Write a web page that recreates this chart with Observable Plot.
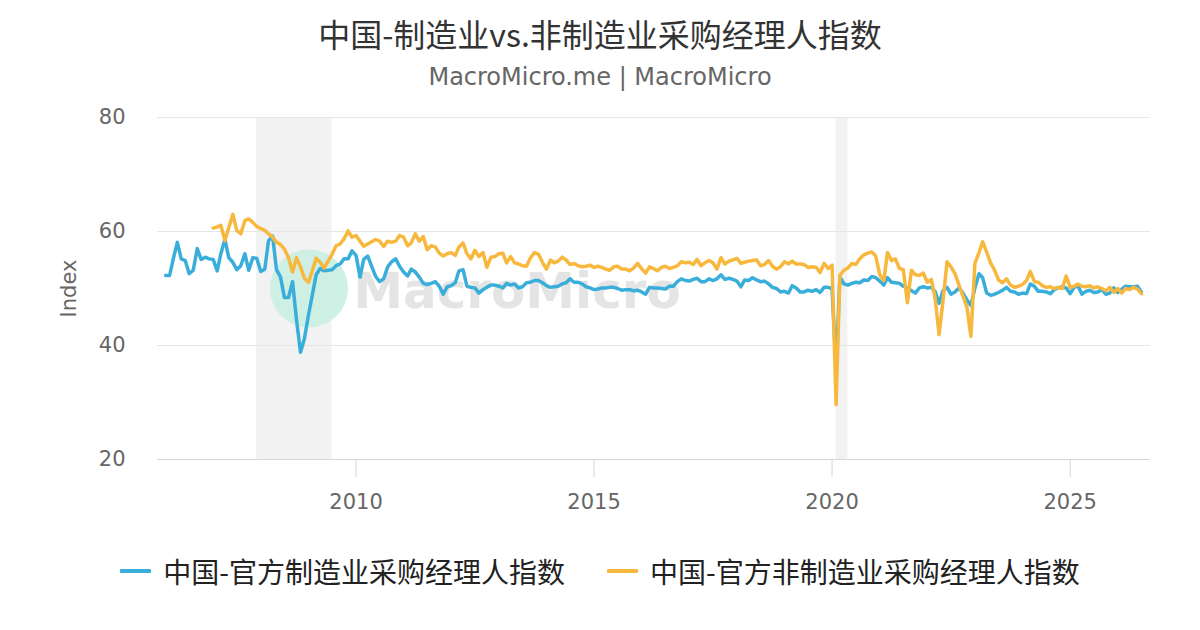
<!DOCTYPE html>
<html>
<head>
<meta charset="utf-8">
<script src="https://cdn.jsdelivr.net/npm/d3@7"></script>
<script src="https://cdn.jsdelivr.net/npm/@observablehq/plot@0.6"></script>
<style>
  html, body { margin: 0; padding: 0; background: #ffffff; }
  body { width: 1200px; height: 630px; position: relative; overflow: hidden; font-family: "DejaVu Sans", "Noto Sans CJK SC", sans-serif; }
  #title { position: absolute; top: 10px; left: 0; width: 1200px; text-align: center; font-family: "Noto Sans CJK SC", "DejaVu Sans", sans-serif; font-size: 32px; color: #333333; line-height: 46px; }
  #subtitle { position: absolute; top: 62px; left: 0; width: 1200px; text-align: center; font-family: "DejaVu Sans", sans-serif; font-size: 24px; color: #666666; line-height: 30px; }
  #chart { position: absolute; top: 100px; left: 0; }
  #legend { position: absolute; top: 550px; left: 0; width: 1200px; display: flex; justify-content: center; align-items: center; font-family: "Noto Sans CJK SC", sans-serif; font-size: 28px; color: #222222; line-height: 42px; }
  .item { display: flex; align-items: center; }
  .item + .item { margin-left: 42px; }
  .swatch { width: 31px; height: 4px; border-radius: 1px; margin-right: 12px; }
</style>
</head>
<body>
<div id="title"></div>
<div id="subtitle"></div>
<div id="chart"></div>
<div id="legend"></div>
<script>
// ---------- data ----------
const titleText = "中国-制造业vs.非制造业采购经理人指数";
const subtitleText = "MacroMicro.me | MacroMicro";
const seriesNames = ["中国-官方制造业采购经理人指数", "中国-官方非制造业采购经理人指数"];
const seriesColors = ["#3aaedb", "#f7b83d"];

// monthly values, first month given by the start arrays [year, month]
const mfgStart = [2006, 1];
const mfgPMI = [
  52.3, 52.3, 55.2, 58.1, 55.2, 54.9, 52.6, 53.2, 57.0, 55.1, 55.5, 55.2,
  55.1, 53.1, 56.1, 58.6, 55.4, 54.6, 53.3, 54.0, 56.1, 53.2, 55.4, 55.3,
  53.0, 53.4, 58.4, 59.2, 53.3, 52.0, 48.4, 48.4, 51.2, 44.6, 38.8, 41.2,
  45.3, 49.0, 52.4, 53.5, 53.1, 53.2, 53.3, 54.0, 54.3, 55.2, 55.2, 56.6,
  55.8, 52.0, 55.1, 55.7, 53.9, 52.1, 51.2, 51.7, 53.8, 54.7, 55.2, 53.9,
  52.9, 52.2, 53.4, 52.9, 52.0, 50.9, 50.7, 50.9, 51.2, 50.4, 49.0, 50.3,
  50.5, 51.0, 53.1, 53.3, 50.4, 50.2, 50.1, 49.2, 49.8, 50.2, 50.6, 50.6,
  50.4, 50.1, 50.9, 50.6, 50.8, 50.1, 50.3, 51.0, 51.1, 51.4, 51.4, 51.0,
  50.5, 50.2, 50.3, 50.4, 50.8, 51.0, 51.7, 51.1, 51.1, 50.8, 50.3, 50.1,
  49.8, 49.9, 50.1, 50.1, 50.2, 50.2, 50.0, 49.7, 49.8, 49.8, 49.6, 49.7,
  49.4, 49.0, 50.2, 50.1, 50.1, 50.0, 49.9, 50.4, 50.4, 51.2, 51.7, 51.4,
  51.3, 51.6, 51.8, 51.2, 51.2, 51.7, 51.4, 51.7, 52.4, 51.6, 51.8, 51.6,
  51.3, 50.3, 51.5, 51.4, 51.9, 51.5, 51.2, 51.3, 50.8, 50.2, 50.0, 49.4,
  49.5, 49.2, 50.5, 50.1, 49.4, 49.4, 49.7, 49.5, 49.8, 49.3, 50.2, 50.2,
  50.0, 35.7, 52.0, 50.8, 50.6, 50.9, 51.1, 51.0, 51.5, 51.4, 52.1, 51.9,
  51.3, 50.6, 51.9, 51.1, 51.0, 50.9, 50.4, 50.1, 49.6, 49.2, 50.1, 50.3,
  50.1, 50.2, 49.5, 47.4, 49.6, 50.2, 49.0, 49.4, 50.1, 49.2, 48.0, 47.0,
  50.1, 52.6, 51.9, 49.2, 48.8, 49.0, 49.3, 49.7, 50.2, 49.5, 49.4, 49.0,
  49.2, 49.1, 50.8, 50.4, 49.5, 49.5, 49.4, 49.1, 49.8, 50.1, 50.3, 50.1,
  49.1, 50.2, 50.5, 49.0, 49.5, 49.7, 49.3, 49.4, 49.8, 49.0, 49.2, 50.1,
  49.3, 49.9, 50.4, 50.3, 50.3, 50.4, 49.4
];

const nonMfgStart = [2007, 1];
const nonMfgPMI = [
  60.6, 60.8, 61.1, 58.4, 60.7, 63.0, 60.2, 59.6, 61.9, 62.2, 61.6, 60.9,
  60.5, 60.2, 59.6, 59.0, 58.1, 57.7, 56.9, 55.4, 52.9, 55.4, 53.8, 51.8,
  51.1, 53.2, 55.3, 54.6, 53.6, 54.8, 56.0, 57.5, 57.8, 58.7, 60.1, 59.0,
  59.3, 58.3, 57.4, 57.8, 58.2, 58.6, 58.3, 57.4, 58.3, 58.1, 58.3, 59.3,
  59.0, 57.5, 58.0, 59.6, 58.3, 59.1, 56.8, 57.5, 57.3, 56.2, 55.7, 56.1,
  56.3, 55.8, 57.3, 58.0, 56.1, 55.2, 56.7, 55.6, 56.3, 53.7, 55.5, 55.6,
  56.1, 56.2, 54.5, 55.6, 54.5, 54.3, 54.0, 53.9, 55.4, 56.3, 56.0, 54.6,
  53.4, 55.0, 54.5, 54.8, 55.5, 55.0, 54.2, 54.4, 54.0, 53.8, 53.9, 54.1,
  53.7, 53.9, 53.7, 53.4, 53.2, 53.8, 53.9, 53.4, 53.4, 53.1, 53.6, 54.4,
  53.5, 52.7, 53.8, 53.5, 53.1, 53.7, 53.9, 53.5, 53.7, 54.0, 54.7, 54.5,
  54.6, 54.2, 55.1, 54.0, 54.5, 54.9, 54.5, 53.4, 55.4, 54.3, 54.8, 55.0,
  55.3, 54.4, 54.6, 54.8, 54.9, 55.0, 54.0, 54.2, 54.9, 53.9, 53.4, 53.8,
  54.7, 54.3, 54.8, 54.3, 54.3, 54.2, 53.7, 53.8, 53.7, 52.8, 54.4, 53.5,
  54.1, 29.6, 52.3, 53.2, 53.6, 54.4, 54.2, 55.2, 55.9, 56.2, 56.4, 55.7,
  52.4, 51.4, 56.3, 54.9, 55.2, 53.5, 53.3, 47.5, 53.2, 52.4, 52.3, 52.7,
  51.1, 51.6, 48.4, 41.9, 47.8, 54.7, 53.8, 52.6, 50.6, 48.7, 46.7, 41.6,
  54.4, 56.3, 58.2, 56.4, 54.5, 53.2, 51.5, 51.0, 51.7, 50.6, 50.2, 50.4,
  50.7, 51.4, 53.0, 51.2, 51.1, 50.5, 50.2, 50.3, 50.0, 50.2, 50.0, 52.2,
  50.2, 50.4, 50.8, 50.4, 50.3, 50.5, 50.1, 50.3, 50.0, 49.6, 50.2, 49.3,
  50.0, 49.2, 50.0, 49.8, 50.2, 49.9, 49.1
];

// shaded periods (recessions)
const bandStarts = ["2007-12-01", "2020-02-01"];
const bandEnds = ["2009-07-01", "2020-05-01"];

// axes
const yTicks = [20, 40, 60, 80];
const xTickYears = [2010, 2015, 2020, 2025];
const xDomain = ["2005-10-31", "2026-09-09"];
const yDomain = [20, 80];
const yLabel = "Index";
const watermarkText = "MacroMicro";

// ---------- build ----------
function monthly(start, values) {
  return values.map((v, i) => ({ date: new Date(Date.UTC(start[0], start[1] - 1 + i, 1)), value: v }));
}
const mfgData = monthly(mfgStart, mfgPMI);
const nonMfgData = monthly(nonMfgStart, nonMfgPMI);
const bands = bandStarts.map((s, i) => ({ start: new Date(s), end: new Date(bandEnds[i]) }));
const xTicks = xTickYears.map(y => new Date(Date.UTC(y, 0, 1)));

document.getElementById("title").textContent = titleText;
document.getElementById("subtitle").textContent = subtitleText;

const chart = Plot.plot({
  width: 1200,
  height: 430,
  marginTop: 17,
  marginBottom: 71,
  marginLeft: 157,
  marginRight: 50,
  style: { background: "transparent", fontFamily: "DejaVu Sans, sans-serif", fontSize: "21px", color: "#666666", overflow: "visible" },
  x: { type: "utc", domain: xDomain.map(d => new Date(d)) },
  y: { domain: yDomain },
  marks: [
    Plot.rect(bands, { x1: "start", x2: "end", fill: "#f2f2f2" }),
    Plot.dot([watermarkText], { frameAnchor: "middle", dx: -345, dy: 0, r: 39, fill: "#c9eee2", fillOpacity: 0.9, stroke: "none" }),
    Plot.text([watermarkText], { frameAnchor: "middle", dx: -137, dy: 3, text: d => d, fontSize: 50, fontWeight: "bold", fill: "#e4e4e4", fontFamily: "DejaVu Sans" }),
    Plot.ruleY(yTicks.filter(t => t !== yDomain[0]), { stroke: "#e6e6e6", strokeWidth: 1 }),
    Plot.ruleY([yDomain[0]], { stroke: "#d6d6d6", strokeWidth: 1.2 }),
    Plot.axisY({ ticks: yTicks, tickSize: 0, tickPadding: 32, fontSize: 21, label: yLabel, labelAnchor: "center", labelArrow: "none", labelOffset: 96 }),
    Plot.axisX({ ticks: xTicks, tickFormat: d3.utcFormat("%Y"), tickSize: 18, tickPadding: 17, stroke: "#d6d6d6", fontSize: 21, label: null }),
    Plot.lineY(mfgData, { x: "date", y: "value", stroke: seriesColors[0], strokeWidth: 3.5, strokeLinejoin: "round" }),
    Plot.lineY(nonMfgData, { x: "date", y: "value", stroke: seriesColors[1], strokeWidth: 3.5, strokeLinejoin: "round" })
  ]
});
document.getElementById("chart").appendChild(chart);

const legend = document.getElementById("legend");
seriesNames.forEach((name, i) => {
  const item = document.createElement("div");
  item.className = "item";
  const sw = document.createElement("span");
  sw.className = "swatch";
  sw.style.background = seriesColors[i];
  const label = document.createElement("span");
  label.textContent = name;
  item.appendChild(sw);
  item.appendChild(label);
  legend.appendChild(item);
});
</script>
</body>
</html>
